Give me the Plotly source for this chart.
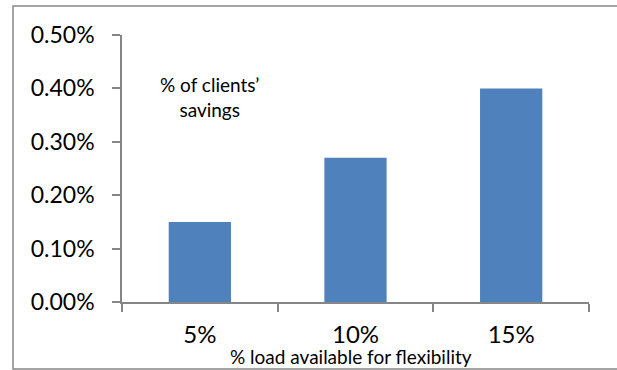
import plotly.graph_objects as go

# Savings by share of load available for flexibility
categories = ["5%", "10%", "15%"]
savings = [0.0015, 0.0027, 0.0040]
y_ticks = [0.0, 0.001, 0.002, 0.003, 0.004, 0.005]

BAR_COLOR = "#4F81BD"
AXIS_COLOR = "#868686"
FONT = "Lato"

W, H = 617, 370
L, R, T, B = 122, 28, 35, 68
plot_w = W - L - R
plot_h = H - T - B


def px_x(px):
    return (px - L) / plot_w


def px_y(py):
    return (H - B - py) / plot_h


fig = go.Figure(
    go.Bar(
        x=categories,
        y=savings,
        marker=dict(color=BAR_COLOR, line=dict(width=0)),
        width=0.4,
    )
)

fig.update_layout(
    width=W,
    height=H,
    margin=dict(l=L, r=R, t=T, b=B, pad=0),
    paper_bgcolor="white",
    plot_bgcolor="white",
    showlegend=False,
    font=dict(family=FONT, color="black"),
    bargap=0.6,
)

fig.update_xaxes(
    type="category",
    range=[-0.5, 2.5],
    showgrid=False,
    showline=True,
    linecolor=AXIS_COLOR,
    linewidth=1.5,
    ticks="outside",
    tickson="boundaries",
    ticklen=8,
    tickwidth=1.5,
    tickcolor=AXIS_COLOR,
    tickfont=dict(size=24, family=FONT, color="black"),
    ticklabelstandoff=10,
    zeroline=False,
)

fig.update_yaxes(
    range=[0, 0.005],
    tickvals=y_ticks,
    tickformat=".2%",
    showgrid=False,
    showline=True,
    linecolor=AXIS_COLOR,
    linewidth=1.5,
    ticks="outside",
    ticklen=8,
    tickwidth=1.5,
    tickcolor=AXIS_COLOR,
    tickfont=dict(size=23, family=FONT, color="black"),
    ticklabelstandoff=13,
    zeroline=False,
)

# Series label inside the plot
fig.add_annotation(
    text="% of clients’<br>savings",
    xref="paper", yref="paper",
    x=px_x(209), y=px_y(97),
    xanchor="center", yanchor="middle",
    showarrow=False,
    font=dict(size=19, family=FONT, color="black"),
)

# Horizontal axis title
fig.add_annotation(
    text="% load available for flexibility",
    xref="paper", yref="paper",
    x=px_x(351), y=px_y(356.5),
    xanchor="center", yanchor="middle",
    showarrow=False,
    font=dict(size=19, family=FONT, color="black"),
)

# Chart-area border
fig.add_shape(
    type="rect",
    xref="paper", yref="paper",
    x0=px_x(13), x1=px_x(625),
    y0=px_y(369), y1=px_y(6),
    line=dict(color=AXIS_COLOR, width=1.5),
    fillcolor="rgba(0,0,0,0)",
    layer="below",
)

fig.write_html("out.html")
